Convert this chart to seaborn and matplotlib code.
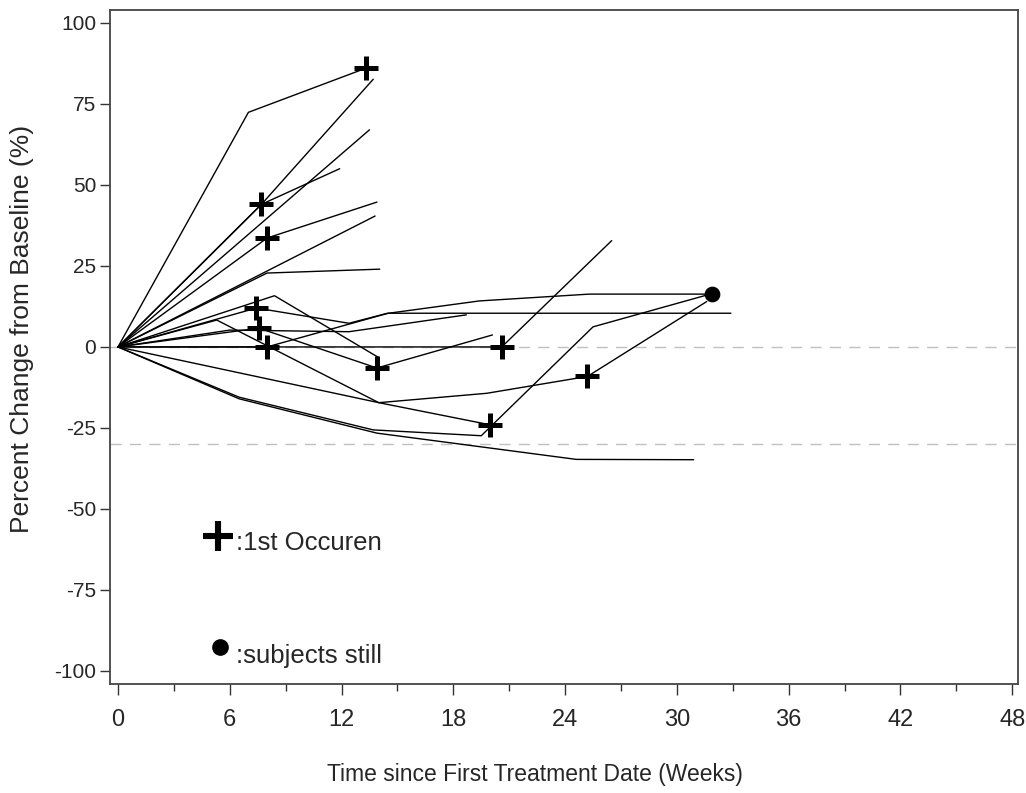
import numpy as np
import pandas as pd
import matplotlib
matplotlib.use('Agg')
import matplotlib.pyplot as plt
import seaborn as sns
from matplotlib.ticker import MultipleLocator

# weeks / percent change per subject
subject_weeks = [
    [0, 7.0, 13.3],
    [0, 7.7, 13.7],
    [0, 13.5],
    [0, 7.7, 11.9],
    [0, 8.0, 13.9],
    [0, 13.8],
    [0, 8.0, 14.05],
    [0, 8.4, 14.0],
    [0, 7.56, 13.9, 20.1],
    [0, 7.43, 12.4, 14.4, 19.4, 25.3, 31.9],
    [0, 6.0, 12.4, 18.7],
    [0, 20.6, 26.5],
    [0, 8.0, 14.5, 32.9],
    [0, 5.3, 14.0, 19.95],
    [0, 14.0, 19.8, 25.2, 31.6],
    [0, 6.5, 13.9, 24.6, 30.9],
    [0, 6.5, 13.7, 19.5, 25.5, 31.6],
]
subject_pct = [
    [0, 72.4, 86.0],
    [0, 44.0, 82.6],
    [0, 67.0],
    [0, 44.0, 55.0],
    [0, 33.6, 44.7],
    [0, 40.4],
    [0, 22.8, 24.0],
    [0, 15.8, -3.3],
    [0, 5.8, -6.5, 3.7],
    [0, 12.0, 7.3, 10.3, 14.2, 16.3, 16.3],
    [0, 5.2, 4.7, 9.9],
    [0, 0.0, 32.8],
    [0, 0.0, 10.4, 10.4],
    [0, 8.3, -17.2, -24.0],
    [0, -17.2, -14.3, -9.1, 14.0],
    [0, -16.0, -26.6, -34.7, -34.8],
    [0, -15.5, -25.6, -27.4, 6.2, 16.0],
]

# first occurrence markers and ongoing subjects
event_weeks = [13.3, 7.7, 8.0, 7.43, 7.56, 8.0, 13.9, 20.6, 19.95, 25.2]
event_pct = [86.0, 44.0, 33.6, 12.0, 5.8, 0.0, -6.5, 0.0, -24.0, -9.1]
ongoing_weeks = [31.9]
ongoing_pct = [16.3]

x_ticks = [0, 6, 12, 18, 24, 30, 36, 42, 48]
y_ticks = [-100, -75, -50, -25, 0, 25, 50, 75, 100]
ref_lines = [0, -30]

rows = []
for i, (w, p) in enumerate(zip(subject_weeks, subject_pct)):
    for wk, pc in zip(w, p):
        rows.append({'subject': i, 'week': wk, 'pct': pc})
df = pd.DataFrame(rows)

sns.set_style('white')
plt.rcParams['font.family'] = ['Liberation Sans', 'DejaVu Sans']

fig = plt.figure(figsize=(10.26, 7.93), dpi=100)
ax = fig.add_axes([0.1072, 0.1375, 0.8848, 0.85])

for r in ref_lines:
    ax.axhline(r, color='#c0c0c0', lw=1.0, ls=(0, (8, 6)), zorder=1)

sns.lineplot(data=df, x='week', y='pct', units='subject', estimator=None,
             sort=False, color='black', lw=1.0, ax=ax, zorder=2)
sns.scatterplot(x=event_weeks, y=event_pct, marker='+', s=320, color='black',
                linewidth=3.6, ax=ax, zorder=3)
sns.scatterplot(x=ongoing_weeks, y=ongoing_pct, marker='o', s=110,
                color='black', edgecolor='black', ax=ax, zorder=3)

# in-plot key
ax.plot(5.36, -58.2, marker='+', ms=21, mew=4.4, color='black')
ax.text(6.35, -60.5, ':1st Occuren', fontsize=18.5, va='center')
ax.plot(5.47, -92.5, marker='o', ms=11, color='black')
ax.text(6.35, -95.5, ':subjects still', fontsize=18.5, va='center')

ax.set_xlim(-0.43, 48.3)
ax.set_ylim(-104, 104)
ax.set_xticks(x_ticks)
ax.xaxis.set_minor_locator(MultipleLocator(3))
ax.set_yticks(y_ticks)
ax.set_yticklabels([str(v) for v in y_ticks], fontsize=15)
ax.set_xticklabels([str(v) for v in x_ticks], fontsize=17)
ax.tick_params(axis='x', which='major', direction='out', length=8, width=1,
               color='#333333', pad=10, bottom=True)
ax.tick_params(axis='x', which='minor', direction='out', length=5, width=1,
               color='#333333', bottom=True)
ax.tick_params(axis='y', which='major', direction='out', length=7, width=1,
               color='#333333', pad=3, left=True)

for s in ax.spines.values():
    s.set_color('#444444')
    s.set_linewidth(1.3)

ax.set_xlabel('Time since First Treatment Date (Weeks)', fontsize=16.5,
              va='center')
ax.xaxis.set_label_coords(0.468, -0.135)
ax.set_ylabel('Percent Change from Baseline (%)', fontsize=19, va='center')
ax.yaxis.set_label_coords(-0.097, 0.526)

fig.savefig('out.png', dpi=100)
